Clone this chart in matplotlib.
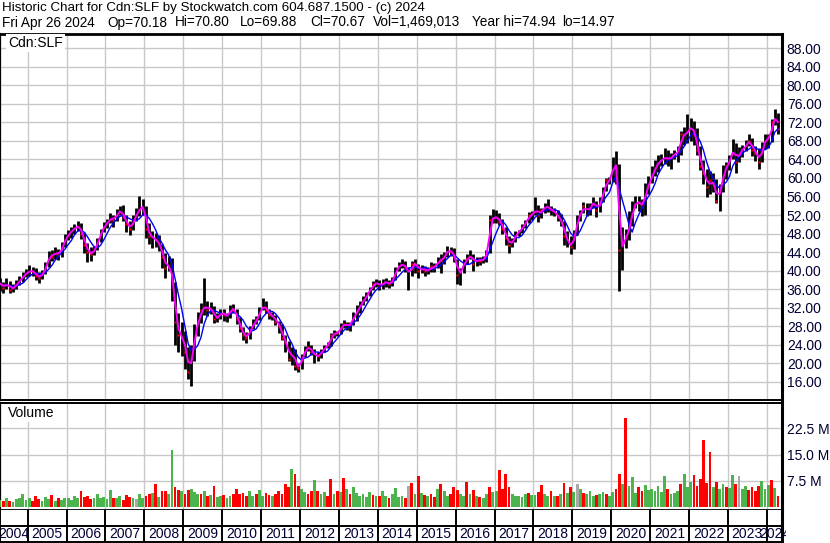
import matplotlib
matplotlib.use('Agg')
import matplotlib.pyplot as plt
from matplotlib.transforms import Bbox
import numpy as np
import pandas as pd

plt.rcParams['font.family'] = ['Liberation Sans', 'DejaVu Sans']

# monthly bars, Apr 2004 .. Apr 2024
start_month = '2004-04'
close_px = [
    37.2, 36.2, 37.5, 35.8, 36.4, 37.2, 38.0, 39.0, 39.5,
    40.0, 39.8, 38.9, 38.5, 39.5, 41.0, 43.5, 43.0, 44.2, 43.3, 45.5, 47.0,
    48.0, 48.8, 49.2, 49.8, 48.0, 45.5, 44.0, 43.5, 44.8, 46.5, 48.5, 49.8,
    50.5, 51.5, 51.0, 52.5, 53.0, 51.5, 50.0, 49.0, 51.0, 52.5, 53.5, 54.0,
    49.0, 47.5, 47.0, 46.5, 45.5, 43.0, 40.5, 41.5, 37.0, 29.0, 26.0, 25.5,
    22.5, 18.0, 22.0, 27.0, 29.5, 31.5, 32.5, 31.5, 32.0, 29.5, 30.0, 31.0,
    30.5, 30.0, 32.0, 31.5, 29.5, 27.5, 26.0, 25.5, 27.5, 28.5, 29.5, 31.5,
    32.5, 31.5, 30.5, 30.0, 29.0, 28.0, 25.5, 24.5, 21.0, 22.5, 19.5, 19.0,
    21.5, 23.0, 23.5, 22.5, 21.5, 21.5, 22.5, 23.5, 24.0, 26.0, 26.5, 26.5,
    28.0, 28.5, 28.0, 28.5, 30.5, 31.0, 33.0, 33.5, 35.0, 36.0, 37.0, 37.5,
    36.5, 37.5, 37.5, 37.0, 38.0, 40.5, 41.0, 41.5, 40.5, 39.0, 41.5, 41.5,
    40.0, 40.5, 40.0, 40.0, 41.0, 40.5, 42.5, 42.0, 43.5, 44.5, 44.0, 43.0,
    39.0, 40.0, 42.0, 42.5, 43.5, 41.5, 42.5, 42.0, 42.5, 44.0, 51.0, 51.5,
    51.5, 50.5, 49.0, 47.0, 45.5, 46.5, 48.0, 48.5, 49.5, 50.5, 52.0, 52.0,
    53.5, 52.0, 53.0, 54.0, 53.5, 53.0, 52.5, 51.5, 50.5, 47.5, 46.0, 45.0,
    48.0, 51.5, 52.5, 54.0, 52.5, 54.0, 55.0, 53.0, 55.0, 57.5, 59.5, 59.5,
    63.5, 62.0, 44.5, 46.0, 47.5, 50.0, 53.5, 55.0, 54.5, 54.0, 57.5, 59.0,
    61.0, 62.5, 63.5, 64.0, 64.5, 64.0, 64.5, 65.5, 65.5, 69.5, 69.0, 70.5,
    71.0, 69.5, 66.0, 62.5, 61.0, 58.0, 59.5, 58.5, 55.0, 58.0, 61.5, 62.5,
    64.5, 66.5, 63.5, 66.0, 66.0, 67.5, 68.0, 66.0, 65.5, 63.5, 67.0, 68.5,
    68.5, 72.0, 73.5, 70.67,
]
high_px = [
    38.5, 37.6, 38.3, 37.8, 37.0, 37.9, 38.8, 39.8, 40.4,
    41.2, 40.8, 40.5, 39.8, 40.2, 41.8, 44.3, 44.5, 45.0, 44.6, 46.2, 47.8,
    48.8, 49.5, 50.0, 50.6, 50.2, 48.4, 45.9, 45.0, 45.4, 47.0, 49.0, 50.4,
    51.2, 52.4, 52.0, 53.2, 54.0, 54.2, 52.0, 50.8, 51.9, 53.5, 56.0, 55.4,
    54.0, 50.2, 48.6, 48.2, 47.6, 45.8, 43.8, 43.2, 42.8, 37.5, 30.8, 29.0,
    27.0, 23.5, 24.0, 28.5, 31.0, 33.0, 38.4, 33.5, 33.2, 32.4, 30.8, 31.6,
    31.8, 30.8, 32.6, 32.8, 31.6, 30.0, 27.8, 26.8, 28.0, 29.5, 30.2, 32.2,
    34.0, 33.5, 31.8, 31.0, 30.5, 29.2, 28.4, 26.0, 24.8, 23.5, 23.0, 20.0,
    22.0, 23.8, 24.8, 24.0, 23.0, 22.4, 23.0, 24.0, 24.6, 26.5, 27.2, 27.0,
    28.6, 29.3, 29.0, 29.0, 31.0, 32.5, 33.5, 34.6, 35.4, 36.5, 37.8, 38.2,
    38.0, 38.2, 38.3, 38.0, 38.6, 40.8, 41.8, 42.4, 42.0, 40.8, 42.0, 42.5,
    41.5, 41.2, 41.0, 40.8, 41.8, 41.6, 43.0, 43.6, 44.0, 45.3, 45.0, 44.8,
    42.6, 40.6, 42.4, 43.5, 44.4, 43.6, 43.0, 43.0, 43.2, 44.5, 52.0, 53.2,
    53.0, 52.4, 51.2, 49.5, 47.5, 47.0, 48.5, 48.8, 50.0, 51.0, 52.6, 52.8,
    55.8, 54.2, 53.6, 54.6, 55.5, 54.0, 53.6, 53.0, 52.2, 50.8, 48.5, 47.5,
    48.8, 52.0, 53.0, 54.8, 54.5, 54.5, 55.8, 55.0, 55.8, 58.0, 60.0, 60.2,
    64.5, 65.8, 63.0, 49.5, 49.0, 52.8, 55.0, 56.0, 56.0, 55.5, 59.0, 60.5,
    62.5, 63.8, 65.0, 65.2, 66.5, 66.0, 65.4, 66.0, 66.8, 70.2, 71.0, 73.8,
    73.0, 72.2, 70.8, 67.0, 63.8, 62.0, 61.5, 61.0, 59.8, 58.8, 62.8, 63.4,
    65.0, 68.5, 67.6, 66.6, 67.2, 68.2, 69.4, 68.6, 67.0, 66.5, 67.8, 69.5,
    69.5, 72.8, 74.94, 74.0,
]
low_px = [
    35.6, 35.2, 36.0, 35.1, 35.3, 36.0, 36.8, 37.6, 38.6,
    38.8, 38.9, 38.0, 37.4, 38.2, 39.2, 40.8, 42.0, 42.6, 42.2, 43.0, 45.0,
    46.5, 47.0, 48.0, 48.6, 46.8, 43.8, 41.8, 42.0, 43.4, 44.5, 46.2, 48.4,
    49.2, 50.2, 49.5, 50.8, 52.0, 50.6, 48.4, 47.6, 48.8, 50.6, 51.8, 52.0,
    47.0, 45.8, 44.8, 45.0, 44.2, 40.6, 38.4, 40.0, 33.5, 24.0, 22.5, 21.5,
    18.8, 16.5, 14.97, 20.5, 25.8, 28.6, 30.5, 30.2, 30.6, 28.6, 28.9, 29.5,
    29.2, 28.8, 29.8, 30.8, 28.5, 26.8, 25.0, 24.4, 25.3, 27.3, 28.5, 29.4,
    31.4, 30.8, 29.6, 29.4, 28.3, 26.6, 25.0, 22.4, 20.4, 19.6, 18.6, 18.0,
    18.8, 21.3, 22.6, 21.8, 20.0, 20.5, 21.2, 22.4, 23.3, 23.8, 25.5, 25.8,
    26.4, 27.6, 27.2, 27.0, 28.3, 29.2, 30.8, 32.6, 33.4, 34.6, 35.7, 36.5,
    35.8, 36.0, 36.5, 36.2, 36.6, 37.9, 40.0, 40.5, 39.8, 35.8, 38.9, 39.5,
    38.5, 39.4, 38.8, 39.2, 39.8, 39.6, 40.5, 39.5, 41.5, 43.0, 43.2, 41.8,
    37.0, 36.8, 39.4, 41.4, 42.5, 40.0, 41.0, 41.2, 41.7, 41.8, 43.8, 50.2,
    50.2, 49.8, 47.8, 45.6, 43.8, 45.0, 46.2, 47.5, 48.2, 49.3, 50.3, 51.0,
    52.0, 50.5, 51.4, 52.5, 52.6, 52.0, 51.8, 50.8, 49.6, 45.5, 45.2, 43.6,
    44.6, 47.6, 50.6, 52.4, 51.8, 52.0, 53.6, 51.5, 52.6, 54.8, 57.2, 58.6,
    59.2, 58.8, 35.6, 40.2, 44.8, 46.6, 49.6, 53.5, 52.8, 51.8, 52.0, 56.5,
    59.0, 60.5, 61.2, 62.5, 63.0, 62.6, 62.0, 64.0, 63.5, 65.0, 67.2, 67.5,
    68.0, 67.2, 65.0, 61.8, 58.6, 55.8, 56.5, 57.0, 54.5, 52.9, 57.0, 59.8,
    61.8, 64.2, 61.0, 63.4, 64.6, 65.8, 66.8, 64.8, 63.6, 62.0, 63.5, 66.2,
    66.4, 67.8, 71.4, 69.4,
]
# volume in millions of shares
volume_m = [
    2.0, 1.6, 2.4, 1.8, 1.4, 2.2, 2.6, 3.8, 2.0,
    2.4, 1.8, 3.0, 2.2, 1.6, 2.8, 2.2, 3.4, 1.8, 2.6, 2.0, 2.4,
    2.6, 2.0, 3.2, 2.4, 4.4, 2.8, 3.0, 2.2, 2.6, 3.6, 2.4, 2.8,
    2.2, 4.8, 2.6, 2.4, 3.2, 2.0, 3.4, 2.8, 2.6, 2.2, 3.8, 2.6,
    3.0, 3.6, 4.0, 6.6, 2.8, 4.6, 4.4, 3.8, 16.2, 5.6, 4.8, 4.4,
    3.8, 4.8, 5.2, 4.2, 3.6, 3.8, 4.6, 3.0, 3.4, 6.0, 2.8, 3.2,
    3.4, 2.6, 3.0, 3.8, 5.2, 3.6, 4.0, 3.2, 4.4, 3.0, 3.6, 4.8,
    3.2, 4.0, 3.4, 3.0, 3.8, 4.6, 3.6, 6.4, 5.8, 10.8, 9.3, 6.0,
    5.0, 4.2, 3.8, 4.4, 7.8, 4.6, 3.6, 4.2, 3.0, 7.9, 3.8, 4.6,
    4.2, 8.4, 5.0, 3.6, 5.6, 4.0, 3.2, 3.8, 2.8, 4.2, 3.4, 3.0,
    3.0, 4.4, 3.0, 2.6, 3.8, 5.4, 2.8, 3.2, 2.6, 6.0, 6.9, 3.6,
    8.9, 4.0, 3.4, 3.0, 3.6, 2.8, 5.0, 6.6, 4.4, 3.2, 3.8, 5.6,
    4.8, 3.6, 3.2, 7.2, 3.6, 4.8, 3.0, 2.8, 2.6, 3.8, 5.8, 4.2,
    4.4, 10.5, 5.0, 9.5, 5.6, 3.8, 3.2, 3.0, 2.8, 3.6, 4.0, 3.4,
    3.4, 4.2, 6.2, 3.6, 3.0, 4.4, 3.2, 3.0, 3.8, 6.8, 4.0, 5.6,
    4.2, 6.6, 5.2, 4.0, 3.6, 4.4, 3.0, 3.4, 3.8, 4.2, 3.6, 3.2,
    4.2, 5.0, 9.5, 6.4, 25.6, 6.0, 8.6, 4.0, 5.8, 4.4, 6.2, 4.8,
    5.0, 4.4, 6.0, 4.2, 8.8, 5.2, 3.8, 4.0, 4.6, 6.4, 9.5, 5.6,
    7.2, 9.2, 6.0, 8.0, 19.1, 6.8, 15.8, 5.6, 7.0, 5.0, 6.4, 5.8,
    5.4, 9.0, 6.6, 8.8, 5.2, 6.0, 4.8, 5.8, 4.4, 6.0, 7.4, 5.0,
    6.2, 7.6, 5.4, 3.0,
]
# g = up, r = down, n = unchanged
direction = ("grgrggggg" "grrrgggrgrgg" "ggggrrrrgggg" "ggrggrrrgngg"
             "rrgrgrrggrrg" "rrgggrgrgrgg" "rggrrrrrggrg" "grrgrrrrrgrr"
             "ggrrgrggrrgr" "grgrggggggrg" "rggrggggrnrg" "rgrgrrgrggrr"
             "rggrgrgrggrg" "grrrrgggggrg" "grrggrgrgrgr" "gngrgggrggrg"
             "grrgrgggrrgg" "gggggrgggrgg" "grrrrrrgrggr" "ggrnggrrrrgg"
             "grgr")

price_ticks = list(range(16, 89, 4))
vol_ticks = [7.5, 15.0, 22.5]
years = list(range(2004, 2025))

header_1 = "Historic Chart for Cdn:SLF by Stockwatch.com 604.687.1500 - (c) 2024"
header_2 = ["Fri Apr 26 2024", "Op=70.18", "Hi=70.80", "Lo=69.88", "Cl=70.67",
            "Vol=1,469,013", "Year hi=74.94", "lo=14.97"]
header_2_x = [2, 107, 175, 240, 310, 373, 472, 562]

months = pd.date_range(start_month, periods=len(close_px), freq='MS') + pd.Timedelta(days=15)
close = pd.Series(close_px, index=months)
fast_ma = close.rolling(2, min_periods=1).mean()
slow_ma = close.rolling(5, min_periods=1).mean()
bar_colors = {'g': '#4cb44c', 'r': '#ff0000', 'n': '#a8a8a8'}
vol_colors = [bar_colors[d] for d in direction]
down = np.array([d == 'r' for d in direction])

W, H = 830, 543
fig = plt.figure(figsize=(W / 100, H / 100), dpi=100)
renderer = fig.canvas.get_renderer()


def px_axes(left, top, right, bottom):
    return fig.add_axes([left / W, 1 - bottom / H, (right - left) / W, (bottom - top) / H])


ax = px_axes(0, 33.5, 782, 400)
axv = px_axes(0, 402.5, 782, 509.5)
axy = px_axes(0, 509.5, 782, 542)

xlim = (pd.Timestamp('2004-04-16'), pd.Timestamp('2024-05-23'))
year_starts = [pd.Timestamp(f'{y}-01-01') for y in years[1:]]
grid_kw = dict(color='#c8c8c8', lw=1.0)
label_color = '#000033'

# price panel
ax.vlines(months, low_px, high_px, color='black', lw=2.0, zorder=3)
ax.plot(months[down], np.array(close_px)[down], ls='none', marker='s', ms=1.8,
        color='red', mec='none', zorder=4)
ax.plot(months, slow_ma, color='#0000ff', lw=1.0, zorder=5)
ax.plot(months, fast_ma, color='#ff00ff', lw=1.4, zorder=6)
ax.set_xlim(*xlim)
ax.set_ylim(12.05, 91.2)
ax.set_xticks(year_starts)
ax.set_yticks(price_ticks)
ax.set_yticklabels([f'{t:.2f}' for t in price_ticks])
ax.grid(True, **grid_kw)
ax.set_axisbelow(True)

# volume panel
axv.bar(months, volume_m, width=26, color=vol_colors, zorder=3)
axv.set_xlim(*xlim)
axv.set_ylim(-0.78, 29.94)
axv.set_xticks(year_starts)
axv.set_yticks(vol_ticks)
axv.set_yticklabels([f'{t:.1f} M' for t in vol_ticks])
axv.grid(True, **grid_kw)
axv.set_axisbelow(True)

for a in (ax, axv):
    a.yaxis.tick_right()
    a.tick_params(axis='y', length=0, pad=3.5, labelsize=10, labelcolor=label_color)
    a.tick_params(axis='x', length=0, labelbottom=False)
    for s in a.spines.values():
        s.set_color('black')
    a.spines['left'].set_linewidth(1.6)
    a.spines['right'].set_linewidth(2.2)
    a.spines['top'].set_linewidth(1.4)
    a.spines['bottom'].set_linewidth(1.4)
ax.spines['top'].set_linewidth(2.0)
axv.spines['bottom'].set_linewidth(2.0)

# year band
axy.set_xlim(*xlim)
axy.set_ylim(0, 1)
axy.set_xticks([])
axy.set_yticks([])
axy.axhline(0.5, color='black', lw=1.4)
axy.vlines(year_starts, 0, 1, color='black', lw=1.4)
for s in axy.spines.values():
    s.set_color('black')
    s.set_linewidth(1.4)
axy.spines['right'].set_linewidth(2.2)
axy.spines['top'].set_visible(False)
band_clip = Bbox.from_extents(0, 0, 786, H)
for y in years:
    lo = max(pd.Timestamp(f'{y}-01-01'), xlim[0])
    hi = min(pd.Timestamp(f'{y + 1}-01-01'), xlim[1])
    t = axy.text(lo + (hi - lo) / 2, 0.24, str(y), ha='center', va='center',
                 fontsize=10, color=label_color, clip_on=True)
    t.set_clip_box(band_clip)

# header and panel labels
h1 = fig.text(2 / W, 1 - 8.5 / H, header_1, fontsize=10, va='center')
w1 = h1.get_window_extent(renderer).width
h1.set_fontsize(10 * 423 / w1)
for txt, x in zip(header_2, header_2_x):
    fig.text(x / W, 1 - 22.5 / H, txt, fontsize=9.8, va='center')
fig.text(8 / W, 1 - 43 / H, 'Cdn:SLF', fontsize=10, va='center',
         bbox=dict(facecolor='white', edgecolor='none', pad=1.5))
fig.text(8 / W, 1 - 413 / H, 'Volume', fontsize=10, va='center',
         bbox=dict(facecolor='white', edgecolor='none', pad=1.5))

fig.savefig('out.png', dpi=100, facecolor='white')
